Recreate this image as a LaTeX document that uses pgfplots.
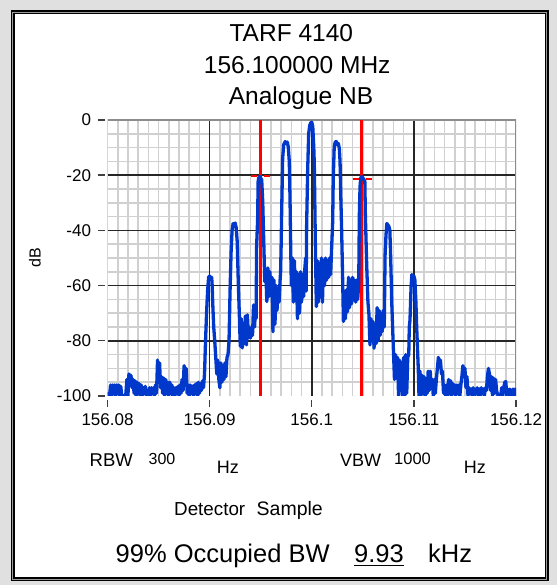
\documentclass[border=0pt]{standalone}
\usepackage{fontspec}
\setmainfont{Liberation Sans}
\usepackage{pgfplots}
\pgfplotsset{compat=1.18}
\definecolor{trace}{RGB}{0,56,204}
\definecolor{mgrid}{RGB}{208,208,208}

\begin{document}
\begin{tikzpicture}
\fill[black!12] (0pt,0pt) rectangle (557pt,585pt);
\fill[white] (12.5pt,5.5pt) rectangle (546.5pt,572.5pt);
\draw[black,line width=4pt] (12.5pt,5.5pt) rectangle (546.5pt,572.5pt);
\draw[black!40,line width=1.3pt] (12.5pt,5.5pt) rectangle (546.5pt,572.5pt);

\begin{axis}[
  at={(107.5pt,189pt)}, anchor=south west,
  scale only axis, width=408.5pt, height=276pt,
  xmin=-20, xmax=20, ymin=-100, ymax=0,
  xtick={-20,-10,0,10,20}, xticklabels={156.08,156.09,156.1,156.11,156.12},
  ytick={0,-20,-40,-60,-80,-100}, yticklabels={0,-20,-40,-60,-80,-100},
  minor xtick={-19,-18,-17,-16,-15,-14,-13,-12,-11,-9,-8,-7,-6,-5,-4,-3,-2,-1,1,2,3,4,5,6,7,8,9,11,12,13,14,15,16,17,18,19},
  minor ytick={-95,-90,-85,-75,-70,-65,-55,-50,-45,-35,-30,-25,-15,-10,-5},
  minor tick length=0pt,
  grid=minor,
  minor grid style={mgrid, line width=1.6pt},
  extra x ticks={-10,0,10}, extra x tick labels={},
  extra y ticks={-20,-40,-60,-80}, extra y tick labels={},
  extra tick style={grid=major, major tick length=0pt},
  major grid style={black!85, line width=1.5pt},
  axis line style={draw=none},
  tick align=outside, tick pos=left,
  major tick length=6.7pt,
  tick style={black!75, line width=1.4pt},
  x tick style={yshift=-4pt},
  y tick style={xshift=-3pt},
  tick label style={font=\fontsize{17}{20}\selectfont, inner sep=0pt},
  xticklabel style={anchor=north, yshift=-10.3pt},
  yticklabel style={anchor=east, xshift=-9.6pt},
]
\draw[black!45, line width=1.5pt] (rel axis cs:0,0) -- (rel axis cs:0,1) -- (rel axis cs:1,1) -- (rel axis cs:1,0);

% occupied bandwidth limits
\addplot[red, line width=3pt] coordinates {(-5.05,0) (-5.05,-100)};
\addplot[red, line width=3pt] coordinates {(4.88,0) (4.88,-100)};
\addplot[red, line width=2pt, dash pattern=on 6pt off 7pt] coordinates {(-5.9,-20.3) (-3.9,-20.3)};
\addplot[red, line width=2pt, dash pattern=on 6pt off 7pt] coordinates {(4.0,-21.5) (6.0,-21.5)};

% spectrum trace, x in kHz from 156.1 MHz
\addplot[trace, line width=3.3pt, line join=round] coordinates {
(-20.0,-100) (-19.9,-99) (-19.8,-100) (-19.7,-96) (-19.6,-100) (-19.5,-96) (-19.4,-99) (-19.3,-96)
(-19.2,-100) (-19.1,-96) (-19.0,-99) (-18.9,-96) (-18.8,-100) (-18.7,-96.5) (-18.6,-100) (-18.5,-100)
(-18.4,-100) (-18.3,-100) (-18.2,-99) (-18.1,-94) (-18.0,-100) (-17.9,-92) (-17.8,-96) (-17.7,-92.5)
(-17.6,-97) (-17.5,-94) (-17.4,-99) (-17.3,-94.5) (-17.2,-100) (-17.1,-95) (-17.0,-99) (-16.9,-95.5)
(-16.8,-100) (-16.7,-96) (-16.6,-100) (-16.5,-97) (-16.4,-99) (-16.3,-96.5) (-16.2,-100) (-16.1,-100)
(-16.0,-100) (-15.9,-97) (-15.8,-100) (-15.7,-97) (-15.6,-99) (-15.5,-97) (-15.4,-100) (-15.3,-96)
(-15.2,-99) (-15.1,-87) (-15.0,-95) (-14.9,-88) (-14.8,-97) (-14.7,-93) (-14.6,-99) (-14.5,-93.5)
(-14.4,-100) (-14.3,-94) (-14.2,-99) (-14.1,-95) (-14.0,-100) (-13.9,-95) (-13.8,-99) (-13.7,-96)
(-13.6,-100) (-13.5,-97) (-13.4,-100) (-13.3,-97) (-13.2,-99) (-13.1,-96.5) (-13.0,-100) (-12.9,-96)
(-12.8,-99) (-12.7,-94) (-12.6,-98) (-12.5,-89) (-12.4,-95) (-12.3,-90) (-12.2,-99) (-12.1,-96)
(-12.0,-100) (-11.9,-96) (-11.8,-99) (-11.7,-96.5) (-11.6,-100) (-11.5,-96) (-11.4,-99) (-11.3,-95.5)
(-11.2,-100) (-11.1,-95) (-11.0,-99) (-10.9,-95.5) (-10.8,-98) (-10.7,-94.5) (-10.6,-97) (-10.5,-92)
(-10.4,-80) (-10.3,-70) (-10.2,-62) (-10.1,-57) (-10.0,-56.5) (-9.9,-57.5) (-9.8,-57) (-9.75,-60)
(-9.7,-66) (-9.6,-75) (-9.5,-80) (-9.4,-86) (-9.3,-92) (-9.2,-87) (-9.1,-94) (-9.0,-97)
(-8.9,-88) (-8.8,-95) (-8.7,-89) (-8.6,-94) (-8.5,-88) (-8.4,-93) (-8.3,-86) (-8.2,-85)
(-8.1,-80) (-8.0,-62) (-7.9,-48) (-7.8,-40) (-7.7,-37.5) (-7.6,-38.5) (-7.5,-37.3) (-7.4,-39)
(-7.3,-44) (-7.2,-58) (-7.1,-69.5) (-7.0,-82) (-6.9,-72) (-6.8,-82.6) (-6.7,-74) (-6.6,-81)
(-6.5,-71) (-6.4,-81.5) (-6.3,-70.6) (-6.2,-79) (-6.1,-75) (-6.0,-79) (-5.9,-76) (-5.8,-78)
(-5.7,-67) (-5.6,-75) (-5.5,-68) (-5.45,-72) (-5.4,-46) (-5.3,-36) (-5.25,-22.3) (-5.2,-21)
(-5.1,-20.5) (-5.0,-21) (-4.9,-21.7) (-4.8,-29.6) (-4.7,-44) (-4.6,-58.6) (-4.5,-54) (-4.4,-65.8)
(-4.3,-53.6) (-4.2,-64) (-4.1,-55) (-4.0,-63) (-3.9,-57) (-3.8,-76.7) (-3.7,-58) (-3.6,-74)
(-3.5,-60) (-3.4,-69) (-3.3,-61) (-3.2,-66) (-3.1,-58) (-3.05,-55) (-3.0,-46) (-2.95,-34)
(-2.85,-14) (-2.75,-9) (-2.6,-7.8) (-2.5,-8.5) (-2.4,-8) (-2.3,-9.7) (-2.2,-15) (-2.13,-28)
(-2.05,-49) (-2.0,-60) (-1.9,-50) (-1.8,-66) (-1.7,-51) (-1.6,-64) (-1.5,-55) (-1.4,-72)
(-1.3,-56) (-1.2,-70) (-1.1,-55) (-1.0,-66) (-0.9,-56) (-0.8,-64) (-0.7,-55) (-0.6,-50)
(-0.55,-62) (-0.5,-38) (-0.4,-18) (-0.3,-5) (-0.2,-2) (-0.1,-1) (0.0,-0.8) (0.1,-2.4)
(0.2,-10) (0.25,-16) (0.3,-30) (0.35,-44) (0.45,-67.6) (0.55,-51) (0.65,-66) (0.75,-52)
(0.85,-64) (0.95,-50) (1.05,-66) (1.15,-51) (1.25,-60) (1.35,-50) (1.45,-58) (1.55,-51)
(1.65,-57) (1.75,-50) (1.85,-56) (1.95,-46) (2.05,-36.8) (2.1,-22.3) (2.2,-9.7) (2.3,-8)
(2.4,-7.8) (2.5,-9) (2.6,-8.5) (2.7,-10.3) (2.77,-15) (2.84,-27) (2.93,-40.5) (3.03,-58.6)
(3.1,-73) (3.2,-62) (3.3,-72) (3.4,-61.5) (3.5,-69.5) (3.6,-57) (3.7,-68) (3.8,-58)
(3.9,-66.6) (4.0,-57) (4.1,-65) (4.2,-58) (4.3,-66) (4.4,-58) (4.5,-65) (4.6,-59)
(4.66,-34.4) (4.73,-24) (4.8,-21) (4.9,-20.5) (5.0,-21) (5.1,-21.5) (5.2,-22.3) (5.25,-34.4)
(5.38,-52.5) (5.5,-65.8) (5.6,-70.5) (5.7,-81.5) (5.8,-72) (5.9,-80) (6.0,-73) (6.1,-82.7)
(6.2,-74) (6.3,-81) (6.4,-68) (6.5,-80) (6.6,-69) (6.7,-78) (6.8,-70) (6.9,-76.6)
(7.0,-69) (7.1,-75) (7.18,-49) (7.27,-41.7) (7.35,-37.5) (7.45,-38) (7.55,-38.5) (7.65,-40)
(7.73,-50) (7.83,-65.8) (7.99,-82.7) (8.1,-94) (8.2,-85) (8.3,-92) (8.4,-86) (8.5,-100)
(8.6,-87) (8.7,-98) (8.8,-88) (8.9,-100) (9.0,-86) (9.1,-100) (9.2,-85) (9.3,-99)
(9.4,-86) (9.5,-85) (9.55,-75) (9.62,-72.5) (9.72,-61) (9.8,-56) (9.9,-57) (10.0,-56.5)
(10.1,-58) (10.2,-66) (10.28,-75.6) (10.43,-90) (10.5,-100) (10.6,-91) (10.7,-100) (10.8,-92.5)
(10.9,-99) (11.0,-93) (11.1,-100) (11.2,-94) (11.3,-99) (11.4,-91) (11.5,-98) (11.6,-91)
(11.7,-97) (11.8,-94) (11.9,-100) (12.0,-94) (12.1,-99) (12.2,-94) (12.3,-90) (12.4,-86)
(12.5,-88) (12.6,-87) (12.7,-92) (12.8,-91) (12.9,-99) (13.0,-96) (13.1,-100) (13.2,-96)
(13.3,-100) (13.4,-94) (13.5,-99) (13.6,-94.5) (13.7,-100) (13.8,-95.5) (13.9,-99) (14.0,-96)
(14.1,-100) (14.2,-96) (14.3,-99) (14.4,-96) (14.5,-100) (14.6,-96) (14.7,-93) (14.8,-89)
(14.9,-93) (15.0,-90) (15.1,-97) (15.2,-93) (15.3,-100) (15.4,-97) (15.5,-99) (15.6,-97.5)
(15.7,-100) (15.8,-97) (15.9,-100) (16.0,-97.5) (16.1,-99) (16.2,-97) (16.3,-100) (16.4,-97.5)
(16.5,-100) (16.6,-97) (16.7,-99) (16.8,-97.5) (16.9,-100) (17.0,-97) (17.1,-98) (17.2,-93)
(17.3,-90) (17.4,-92) (17.5,-98) (17.6,-93) (17.7,-100) (17.8,-93.5) (17.9,-99) (18.0,-94)
(18.1,-98) (18.2,-99.5) (18.3,-100) (18.4,-99.5) (18.5,-100) (18.6,-97) (18.7,-100) (18.8,-97)
(18.9,-95) (19.0,-94.8) (19.1,-100) (19.2,-97.5) (19.3,-100) (19.4,-97.5) (19.5,-100) (19.6,-100)
(19.7,-97.5) (19.8,-100) (19.9,-97.5) (20.0,-100)
};
\end{axis}

% titles and annotations
\node[anchor=base, inner sep=0pt, font=\fontsize{24.5}{29}\selectfont] at (291.3pt,543.3pt) {TARF 4140};
\node[anchor=base, inner sep=0pt, font=\fontsize{24.5}{29}\selectfont] at (297.2pt,511.7pt) {156.100000 MHz};
\node[anchor=base, inner sep=0pt, font=\fontsize{24.5}{29}\selectfont] at (301pt,480pt) {Analogue NB};
\node[rotate=90, inner sep=0pt, font=\fontsize{16}{19}\selectfont] at (35pt,327pt) {dB};

\node[anchor=base west, inner sep=0pt, font=\fontsize{18.5}{22}\selectfont] at (89.5pt,118.3pt) {RBW};
\node[anchor=base west, inner sep=0pt, font=\fontsize{16}{19}\selectfont] at (148.5pt,120pt) {300};
\node[anchor=base west, inner sep=0pt, font=\fontsize{18}{22}\selectfont] at (216.7pt,111.7pt) {Hz};
\node[anchor=base west, inner sep=0pt, font=\fontsize{18}{22}\selectfont] at (340pt,118.3pt) {VBW};
\node[anchor=base west, inner sep=0pt, font=\fontsize{16.5}{19}\selectfont] at (394pt,120pt) {1000};
\node[anchor=base west, inner sep=0pt, font=\fontsize{18}{22}\selectfont] at (463.6pt,111pt) {Hz};
\node[anchor=base west, inner sep=0pt, font=\fontsize{18.8}{22}\selectfont] at (174pt,69.5pt) {Detector};
\node[anchor=base west, inner sep=0pt, font=\fontsize{19.5}{23}\selectfont] at (256.5pt,69.5pt) {Sample};

\node[anchor=base west, inner sep=0pt, font=\fontsize{25.5}{30}\selectfont] at (115.5pt,22.5pt) {99\% Occupied BW};
\node[anchor=base west, inner sep=0pt, font=\fontsize{25.5}{30}\selectfont] at (354pt,22.5pt) {9.93};
\draw[black, line width=1.5pt] (354pt,19.5pt) -- (404pt,19.5pt);
\node[anchor=base west, inner sep=0pt, font=\fontsize{25.5}{30}\selectfont] at (428pt,22.5pt) {kHz};
\end{tikzpicture}
\end{document}
